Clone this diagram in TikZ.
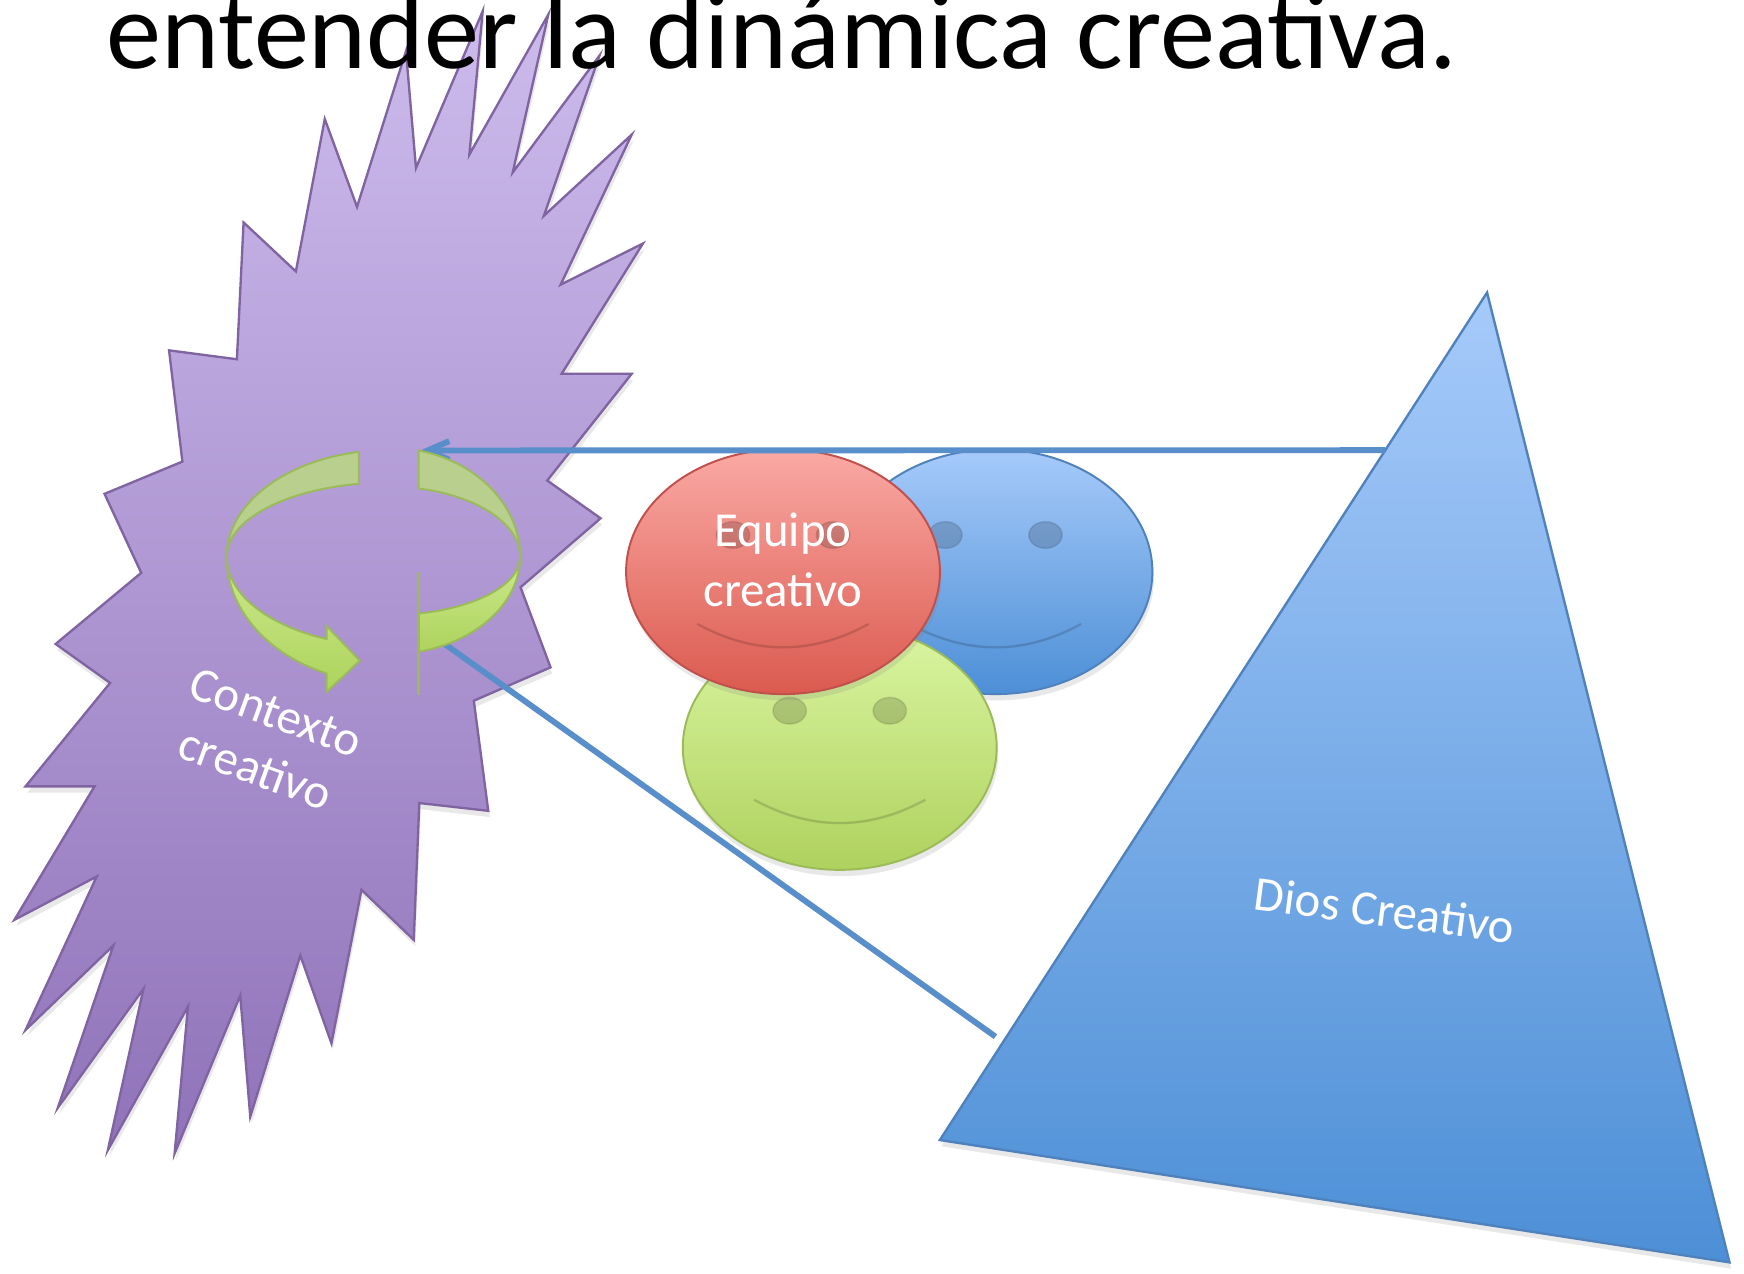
\documentclass[tikz,border=0pt]{standalone}
\usepackage{fontspec}
\setmainfont{Carlito}
\usepackage{tikz}
\usetikzlibrary{calc,shapes.geometric,shadows,arrows.meta}

\definecolor{moradoarriba}{HTML}{CDBBEC}
\definecolor{moradoabajo}{HTML}{9073B9}
\definecolor{moradoborde}{HTML}{8064A2}
\definecolor{azularriba}{HTML}{A6CAFA}
\definecolor{azulabajo}{HTML}{4D8FD6}
\definecolor{azulborde}{HTML}{4F81BD}
\definecolor{verdearriba}{HTML}{DAF6A2}
\definecolor{verdeabajo}{HTML}{AFD15E}
\definecolor{verdeborde}{HTML}{9BBB59}
\definecolor{rojoarriba}{HTML}{FAA9A4}
\definecolor{rojoabajo}{HTML}{DB5A4F}
\definecolor{rojoborde}{HTML}{C0504D}
\definecolor{linea}{HTML}{588EC9}
\definecolor{cintagris}{HTML}{B8CF8E}
\definecolor{cintaarriba}{HTML}{CDE98E}
\definecolor{cintaabajo}{HTML}{ADD35C}

\tikzset{
  sombra/.style={drop shadow={opacity=0.18, shadow xshift=0.4pt, shadow yshift=-1.6pt}},
  estrella/.style={draw=moradoborde, line width=0.6pt,
    top color=moradoarriba, bottom color=moradoabajo, sombra},
  triangulo/.style={draw=azulborde, line width=0.6pt,
    top color=azularriba, bottom color=azulabajo, sombra},
  cara/.style={ellipse, minimum width=2.82cm, minimum height=2.2cm,
    inner sep=0pt, line width=0.5pt, sombra},
  caraazul/.style={draw=azulborde, top color=azularriba, bottom color=azulabajo},
  caraverde/.style={draw=verdeborde, top color=verdearriba, bottom color=verdeabajo},
  cararoja/.style={draw=rojoborde, top color=rojoarriba, bottom color=rojoabajo},
  ojo/.style={fill=black, fill opacity=0.16, draw=black, draw opacity=0.1, line width=0.4pt},
  boca/.style={draw=black, draw opacity=0.15, line width=0.6pt},
  conector/.style={draw=linea, line width=1.5pt},
  cintaoscura/.style={fill=cintagris, draw=verdeborde, line width=0.5pt},
  cintaclara/.style={draw=verdeborde, line width=0.5pt,
    top color=cintaarriba, bottom color=cintaabajo},
  texto/.style={text=white, inner sep=0pt,
    font=\fontsize{12.5pt}{15.3pt}\selectfont},
  titulo/.style={inner sep=0pt, font=\fontsize{28.2pt}{34pt}\selectfont},
}

% una cara sonriente: nombre, posicion, estilo
\newcommand{\carita}[3]{%
  \node[cara,#3] (#1) at (#2) {};
  \path[ojo] ($(#1)+(-45,-33)$) ellipse [x radius=15, y radius=12];
  \path[ojo] ($(#1)+(45,-33)$) ellipse [x radius=15, y radius=12];
  \draw[boca] ($(#1)+(-77,47)$) .. controls ($(#1)+(-26,75)$) and ($(#1)+(26,75)$) .. ($(#1)+(77,47)$);
}

\begin{document}
\begin{tikzpicture}[x=0.01cm,y=-0.01cm]
  \useasboundingbox (0,0) rectangle (1568,1145);

  % contexto creativo
  \path[estrella] (152,315) -- (213,323) -- (219,200) -- (266,244)
    -- (292,107) -- (321,186) -- (365,46) -- (374,151) -- (434,10)
    -- (422,139) -- (493,13) -- (461,155) -- (539,50) -- (489,194)
    -- (568,121) -- (504,256) -- (578,219) -- (505,336) -- (568,336)
    -- (492,432) -- (540,466) -- (468,528) -- (495,600) -- (426,630)
    -- (439,729) -- (377,722) -- (372,845) -- (325,800) -- (298,938)
    -- (270,859) -- (225,1004) -- (216,895) -- (157,1037) -- (169,905)
    -- (97,1034) -- (129,889) -- (52,996) -- (102,850) -- (23,926)
    -- (87,788) -- (13,827) -- (85,707) -- (23,707) -- (99,614)
    -- (50,579) -- (127,515) -- (94,444) -- (164,415) -- cycle;

  % equipo creativo
  \carita{azul}{895,514}{caraazul}
  \carita{verde}{755,672}{caraverde}
  \carita{roja}{704,514}{cararoja}

  % Dios creativo
  \coordinate (cima) at (1337,263);
  \coordinate (izq) at (845,1025);
  \coordinate (der) at (1555,1135);
  \path[triangulo] (cima) -- (izq) -- (der) -- cycle;

  % conectores
  \coordinate (d1) at ($(cima)!0.186!(izq)$);
  \coordinate (c1) at (378,405);
  \coordinate (d2) at (895,932);
  \coordinate (c2) at (390,572);
  \draw[conector,-{Straight Barb[length=5.5pt,width=4.8pt]}] (d1) -- (c1);
  \draw[conector] (d2) -- (c2);

  % flecha circular
  \path[cintaoscura] (322.7,406.3)
    arc[start angle=-100.6, end angle=-180, x radius=145.7, y radius=95.9]
    arc[start angle=180, end angle=259.4, x radius=145.7, y radius=66.7] -- cycle;
  \path[cintaclara] (203.8,500.6)
    arc[start angle=180, end angle=112.5, x radius=145.7, y radius=113.6]
    -- (293.8,622) -- (323.5,594) -- (293.8,563) -- (293.7,574.5)
    arc[start angle=112.5, end angle=180, x radius=145.7, y radius=80] -- cycle;
  \path[cintaoscura] (376.3,405)
    arc[start angle=-76.9, end angle=0, x radius=118.1, y radius=98.2]
    arc[start angle=0, end angle=-76.9, x radius=118.1, y radius=63.1] -- cycle;
  \path[cintaclara] (467.6,500.6)
    arc[start angle=0, end angle=76.9, x radius=118.1, y radius=87.7]
    -- (376.3,551.6)
    arc[start angle=76.9, end angle=0, x radius=118.1, y radius=52.4] -- cycle;
  \draw[draw=verdeborde, line width=0.6pt] (376.3,514) -- (376.3,625);

  % textos
  \node[texto, align=center, rotate=-20] (contexto) at (239,666) {Contexto\\creativo};
  \node[texto, align=center] (equipo) at (704,503) {Equipo\\creativo};
  \node[texto, rotate=-7.5] (dios) at (1245,818) {Dios Creativo};
  \node[titulo, anchor=base west] (titulo) at (95,62) {entender la dinámica creativa.};
\end{tikzpicture}
\end{document}
